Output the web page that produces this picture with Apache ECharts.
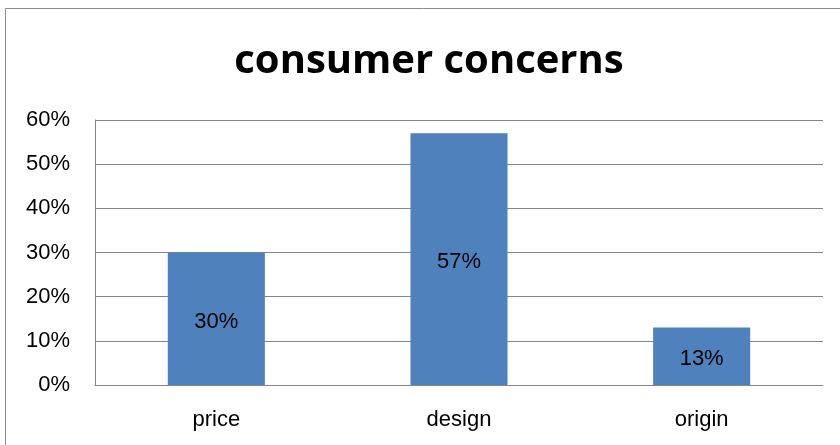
<!DOCTYPE html>
<html><head><meta charset="utf-8">
<script src="https://cdn.jsdelivr.net/npm/echarts@6/dist/echarts.min.js"></script>
<style>html,body{margin:0;padding:0;background:#fff}#c{width:840px;height:445px}</style>
</head><body><div id="c"></div>
<script>
const categories = ['price', 'design', 'origin'];
const values = [0.30, 0.57, 0.13];
const titleText = 'consumer concerns';

const chart = echarts.init(document.getElementById('c'), null, {renderer: 'canvas'});
chart.setOption({
  animation: false,
  backgroundColor: '#ffffff',
  title: {
    text: titleText, left: 429, top: 42, textAlign: 'center', padding: 0,
    textStyle: {fontFamily: 'Open Sans', fontWeight: 'bold', fontSize: 40, color: '#000'}
  },
  graphic: [{
    type: 'polyline', silent: true,
    shape: {points: [[5.5, 450], [5.5, 8.5], [850, 8.5]]},
    style: {stroke: '#8c8c8c', lineWidth: 1, fill: null}
  }],
  grid: {left: 95, right: 17, top: 120, bottom: 60, containLabel: false},
  xAxis: {
    type: 'category', data: categories,
    axisLine: {lineStyle: {color: '#868686', width: 1}},
    axisTick: {show: false},
    axisLabel: {fontFamily: 'Liberation Sans', fontSize: 22, color: '#000', margin: 24}
  },
  yAxis: {
    type: 'value', min: 0, max: 0.6, interval: 0.1,
    axisLine: {show: true, lineStyle: {color: '#868686', width: 1}},
    axisTick: {show: false},
    splitLine: {lineStyle: {color: '#868686', width: 1}},
    axisLabel: {
      fontFamily: 'Liberation Sans', fontSize: 22, color: '#000', margin: 25,
      padding: [4, 0, 0, 0],
      formatter: v => Math.round(v * 100) + '%'
    }
  },
  series: [{
    type: 'bar', data: values, barWidth: '40%',
    itemStyle: {color: '#4f81bd'},
    label: {
      show: true, position: 'inside', color: '#000', offset: [0, 3],
      fontFamily: 'Liberation Sans', fontSize: 22,
      formatter: p => Math.round(p.value * 100) + '%'
    }
  }]
});
</script></body></html>
